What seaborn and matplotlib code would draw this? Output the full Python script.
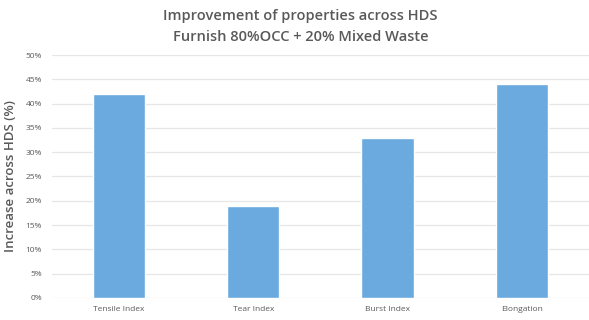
import matplotlib
matplotlib.use("Agg")
import matplotlib.pyplot as plt
import seaborn as sns
import pandas as pd
from matplotlib.ticker import MultipleLocator, FuncFormatter

# data
properties = ["Tensile Index", "Tear Index", "Burst Index", "Elongation"]
increase_pct = [42, 19, 33, 44]

BAR_COLOR = "#6aaade"
TEXT_GRAY = "#595959"

sns.set_style("white")
plt.rcParams["font.family"] = ["Open Sans", "DejaVu Sans"]

df = pd.DataFrame({"Property": properties, "Increase": increase_pct})

fig = plt.figure(figsize=(5.89, 3.2), dpi=100)
ax = fig.add_axes([0.088, 0.069, 0.912, 0.759])

sns.barplot(data=df, x="Property", y="Increase", color=BAR_COLOR,
            width=0.39, saturation=1, ax=ax, zorder=3)

ax.set_ylim(0, 50)
ax.set_xlim(-0.5, 3.5)
ax.yaxis.set_major_locator(MultipleLocator(5))
ax.yaxis.set_major_formatter(FuncFormatter(lambda v, _: f"{int(v)}%"))
ax.grid(axis="y", color="#e6e6e6", linewidth=0.9, zorder=0)
for s in ax.spines.values():
    s.set_visible(False)
ax.tick_params(axis="both", length=0, labelsize=6, colors=TEXT_GRAY)
ax.tick_params(axis="x", pad=6)
ax.tick_params(axis="y", pad=7)

ax.set_xlabel("")
ax.set_ylabel("Increase across HDS (%)", fontsize=9.5, fontweight="semibold",
              color=TEXT_GRAY, labelpad=6)

fig.text(0.51, 0.95, "Improvement of properties across HDS",
         ha="center", va="center", fontsize=10.5, fontweight="semibold", color=TEXT_GRAY)
fig.text(0.51, 0.885, "Furnish 80%OCC + 20% Mixed Waste",
         ha="center", va="center", fontsize=10.5, fontweight="semibold", color=TEXT_GRAY)

fig.savefig("out.png", dpi=100)
